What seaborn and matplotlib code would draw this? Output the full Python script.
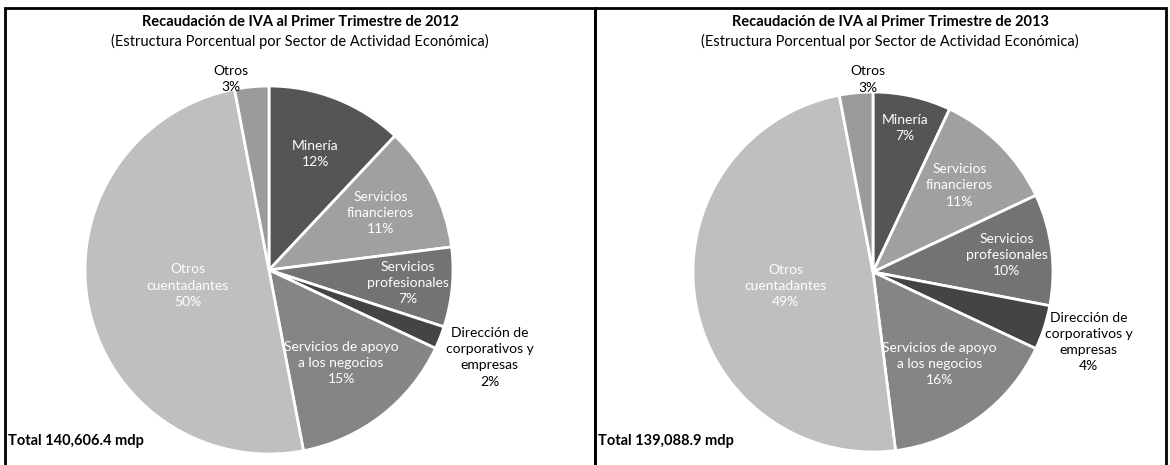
import numpy as np
import matplotlib.pyplot as plt
import seaborn as sns
from matplotlib.patches import Rectangle

# ---- datos ----
sectores = ["Minería", "Servicios\nfinancieros", "Servicios\nprofesionales",
            "Dirección de\ncorporativos y\nempresas", "Servicios de apoyo\na los negocios",
            "Otros\ncuentadantes", "Otros"]
pct_2012 = [12, 11, 7, 2, 15, 50, 3]
pct_2013 = [7, 11, 10, 4, 16, 49, 3]
anios = ["2012", "2013"]
totales = ["140,606.4", "139,088.9"]

# ---- estilo ----
sns.set_theme(style="white")
plt.rcParams['font.family'] = ['Lato', 'DejaVu Sans']

colores = ["#555555", "#a0a0a0", "#737373", "#444444", "#858585", "#bfbfbf", "#9b9b9b"]
afuera = [False, False, False, True, False, False, True]

W, H = 1170, 465
fig = plt.figure(figsize=(11.7, 4.65), dpi=100)
ax = fig.add_axes([0, 0, 1, 1])

# layout de cada panel (pixeles desde arriba)
paneles = [
    dict(x0=5, x1=595, cx=269, cy=270, r=184, tx=300,
         dist=[0.68, 0.68, 0.76, 1.29, 0.64, 0.45, 1.06], dang=[0, 0, 0, 0, 0, 0, 6]),
    dict(x0=595, x1=1166, cx=873, cy=272, r=180, tx=890,
         dist=[0.82, 0.68, 0.75, 1.26, 0.63, 0.49, 1.07], dang=[0, 0, 0, 0, 0, 0, -4]),
]

for p, vals, anio, total in zip(paneles, [pct_2012, pct_2013], anios, totales):
    cx, cy = p["cx"], H - p["cy"]
    wedges, _ = ax.pie(vals, colors=colores, startangle=90, counterclock=False,
                       center=(cx, cy), radius=p["r"],
                       wedgeprops=dict(edgecolor="white", linewidth=2))
    for w, nombre, v, d, da, fuera in zip(wedges, sectores, vals, p["dist"], p["dang"], afuera):
        ang = np.deg2rad((w.theta1 + w.theta2) / 2 + da)
        x = cx + p["r"] * d * np.cos(ang)
        y = cy + p["r"] * d * np.sin(ang)
        ax.text(x, y, f"{nombre}\n{v}%", ha="center", va="center", fontsize=10,
                color="black" if fuera else "white", linespacing=1.42)

    ax.add_patch(Rectangle((p["x0"], -10), p["x1"] - p["x0"], H - 8 + 10,
                           fill=False, edgecolor="black", linewidth=2))
    ax.text(p["tx"], H - 22, f"Recaudación de IVA al Primer Trimestre de {anio}",
            ha="center", va="center", fontsize=10.5, fontweight="bold", color="black")
    ax.text(p["tx"], H - 41, "(Estructura Porcentual por Sector de Actividad Económica)",
            ha="center", va="center", fontsize=10.5, color="black")
    ax.text(p["x0"] + 3, H - 441, f"Total {total} mdp", ha="left", va="center",
            fontsize=10.5, fontweight="bold", color="black")

ax.set_xlim(0, W)
ax.set_ylim(0, H)
ax.set_aspect("equal")
ax.axis("off")

fig.savefig("out.png", dpi=100, facecolor="white")
